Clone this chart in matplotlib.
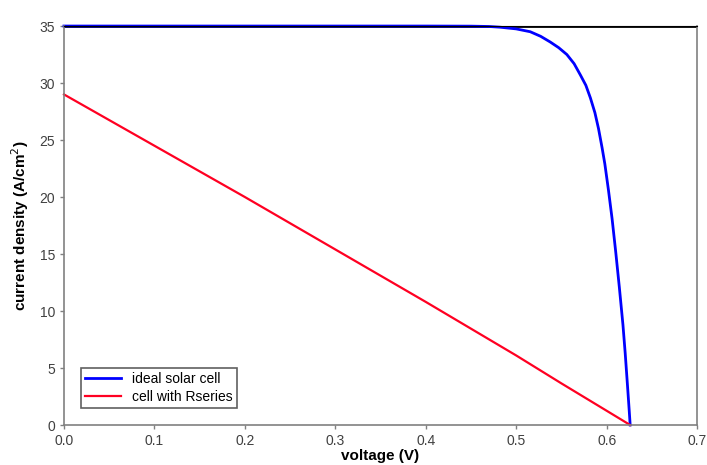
import matplotlib
matplotlib.use("Agg")
import matplotlib.pyplot as plt

plt.rcParams['font.family'] = ['Liberation Sans', 'DejaVu Sans']

# ideal solar cell
v_ideal = [0.0, 0.1, 0.2, 0.3, 0.4, 0.45, 0.47, 0.482, 0.50, 0.5155, 0.527, 0.5376, 0.547,
           0.556, 0.564, 0.571, 0.577, 0.582, 0.587, 0.591, 0.595, 0.598, 0.602, 0.606,
           0.610, 0.614, 0.618, 0.6205, 0.623, 0.625, 0.626]
j_ideal = [35.0, 35.0, 35.0, 35.0, 35.0, 34.99, 34.96, 34.9, 34.75, 34.5, 34.1, 33.6, 33.1,
           32.5, 31.7, 30.7, 29.8, 28.7, 27.4, 26.0, 24.3, 22.9, 20.6, 18.1,
           15.2, 12.1, 8.8, 6.3, 3.5, 1.2, 0.0]

# cell with series resistance
v_rs = [0.0, 0.1, 0.2, 0.3, 0.4, 0.5, 0.55, 0.6, 0.626]
j_rs = [29.0, 24.5, 20.0, 15.4, 10.8, 6.1, 3.65, 1.25, 0.0]

xticks = [0.0, 0.1, 0.2, 0.3, 0.4, 0.5, 0.6, 0.7]
yticks = [0, 5, 10, 15, 20, 25, 30, 35]

fig = plt.figure(figsize=(7.07, 4.65), dpi=100)
ax = fig.add_axes([0.0905, 0.086, 0.8955, 0.858])

ax.plot(v_ideal, j_ideal, color='#0000ff', lw=2, label='ideal solar cell', clip_on=False,
        solid_joinstyle='round')
ax.plot(v_rs, j_rs, color='#ff0022', lw=1.6, label='cell with Rseries', clip_on=False)
ax.axhline(35, color='black', lw=2, zorder=1)

ax.set_xlim(0, 0.7)
ax.set_ylim(0, 35)
ax.set_xticks(xticks)
ax.set_xticklabels(['%.1f' % t for t in xticks])
ax.set_yticks(yticks)

for s in ['left', 'bottom', 'right']:
    ax.spines[s].set_color('#808080')
    ax.spines[s].set_linewidth(1.2)
ax.spines['top'].set_color('black')
ax.tick_params(colors='#404040', labelsize=10, length=3, width=1, direction='out')
ax.tick_params(axis='both', color='#808080')

ax.set_xlabel('voltage (V)', fontsize=11, fontweight='bold', labelpad=1)
ax.set_ylabel('current density (A/cm$^2$)', fontsize=11, fontweight='bold', labelpad=6)

leg = ax.legend(loc='lower left', fontsize=10, fancybox=False, edgecolor='#606060',
                framealpha=1, handlelength=2.6, borderaxespad=1.2, labelspacing=0.3,
                borderpad=0.3)
leg.get_frame().set_linewidth(1.2)

fig.savefig('out.png', dpi=100)
